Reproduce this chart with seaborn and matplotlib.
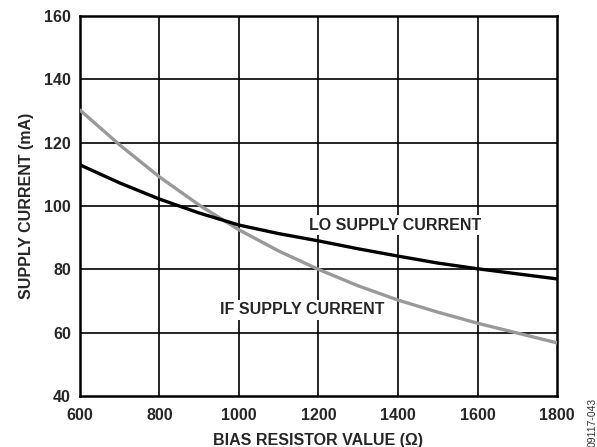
import matplotlib
matplotlib.use('Agg')
import matplotlib.pyplot as plt
import pandas as pd
import seaborn as sns

# values
resistor = [600, 700, 800, 900, 1000, 1100, 1200, 1300, 1400, 1500, 1600, 1700, 1800]
lo_current = [113.0, 107.3, 102.2, 97.8, 94.0, 91.3, 89.0, 86.5, 84.2, 82.0, 80.2, 78.6, 77.0]
if_current = [130.3, 119.3, 109.2, 100.3, 92.5, 85.8, 80.0, 74.8, 70.3, 66.5, 63.0, 59.9, 56.8]
x_ticks = [600, 800, 1000, 1200, 1400, 1600, 1800]
y_ticks = [40, 60, 80, 100, 120, 140, 160]

sns.set_style("white")
plt.rcParams['font.family'] = ['Liberation Sans', 'DejaVu Sans']
plt.rcParams['font.weight'] = 'bold'

df = pd.DataFrame({"r": resistor, "LO": lo_current, "IF": if_current})

fig = plt.figure(figsize=(5.97, 4.47), dpi=100)
ax = fig.add_axes([0.134, 0.114, 0.799, 0.850])

for y in y_ticks[1:-1]:
    ax.axhline(y, color="black", lw=1.2, zorder=1)
for x in x_ticks[1:-1]:
    ax.axvline(x, color="black", lw=1.2, zorder=1)

sns.lineplot(data=df, x="r", y="IF", ax=ax, color="#999999", lw=2.4, zorder=3)
sns.lineplot(data=df, x="r", y="LO", ax=ax, color="black", lw=2.4, zorder=4)

ax.set_xlim(600, 1800)
ax.set_ylim(40, 160)
ax.set_xticks(x_ticks)
ax.set_yticks(y_ticks)
ax.tick_params(length=0, labelsize=11.5)
ax.tick_params(axis="x", pad=8.5)
ax.tick_params(axis="y", pad=6.5)
for s in ax.spines.values():
    s.set_color("black")
    s.set_linewidth(1.8)

ax.set_xlabel("BIAS RESISTOR VALUE (Ω)", fontsize=11.5, fontweight="bold")
ax.set_ylabel("SUPPLY CURRENT (mA)", fontsize=11.5, fontweight="bold")
ax.xaxis.set_label_coords(0.5, -0.097)
ax.yaxis.set_label_coords(-0.096, 0.5)

box = dict(facecolor="white", edgecolor="none", pad=2)
ax.text(1392, 94, "LO SUPPLY CURRENT", ha="center", va="center",
        fontsize=11.5, fontweight="bold", bbox=box, zorder=5)
ax.text(1158, 67.2, "IF SUPPLY CURRENT", ha="center", va="center",
        fontsize=11.5, fontweight="bold", bbox=box, zorder=5)

fig.text(0.993, 0.11, "09117-043", rotation=90, ha="center", va="top",
         fontsize=7.5, fontweight="normal", color="#333333")

fig.savefig("out.png", dpi=100)
